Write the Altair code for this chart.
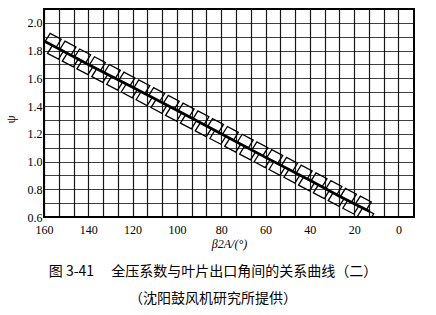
import altair as alt
import pandas as pd

# thick curve psi vs beta2A
line_x = [160, 140, 120, 100, 80, 60, 40, 26, 13]
line_y = [1.87, 1.70, 1.535, 1.37, 1.20, 1.03, 0.865, 0.745, 0.64]

# centres of the hatched band cells along the curve
cell_x = [157, 150.3, 143.7, 137, 130.3, 123.7, 117, 110.3, 103.7, 97, 90.3,
          83.7, 77, 70.3, 63.7, 57, 50.3, 43.7, 37, 30.3, 23.7, 17]
cell_y = [1.845, 1.789, 1.733, 1.677, 1.621, 1.566, 1.510, 1.454, 1.398, 1.342,
          1.286, 1.231, 1.174, 1.118, 1.063, 1.007, 0.951, 0.895, 0.839, 0.783,
          0.728, 0.672]

# graph-paper grid and labels
x_grid = [160, 153.33, 146.67, 140, 133.33, 126.67, 120, 113.33, 106.67, 100,
          93.33, 86.67, 80, 73.33, 66.67, 60, 53.33, 46.67, 40, 33.33, 26.67,
          20, 13.33, 6.67, 0]
y_grid = [0.6, 0.7, 0.8, 0.9, 1.0, 1.1, 1.2, 1.3, 1.4, 1.5, 1.6, 1.7, 1.8,
          1.9, 2.0, 2.1]
x_domain = [-7, 160]
y_domain = [0.6, 2.1]

caption = ["图 3-41　 全压系数与叶片出口角间的关系曲线（二）", "（沈阳鼓风机研究所提供）"]

line_df = pd.DataFrame({"b": line_x, "psi": line_y})
cell_df = pd.DataFrame({"b": cell_x, "psi": cell_y})

xs = alt.Scale(domain=x_domain, reverse=True, nice=False, zero=False)
ys = alt.Scale(domain=y_domain, nice=False, zero=False)

serif = "Liberation Serif"

x_axis = alt.Axis(
    values=x_grid, grid=True, gridColor="black", gridWidth=1.2, gridOpacity=0.9,
    domain=False, ticks=False, labelPadding=7, labelFont=serif, labelFontSize=12,
    labelColor="black", labelFlush=False, labelOverlap=False,
    labelExpr="abs(datum.value % 20) < 0.01 ? format(datum.value, 'd') : ''",
    title="β2A/(°)", titleFont=serif, titleFontSize=12, titleFontWeight="normal",
    titleFontStyle="italic", titleColor="black", titlePadding=3,
)
y_axis = alt.Axis(
    values=y_grid, grid=True, gridColor="black", gridWidth=1, gridOpacity=0.75,
    domain=False, ticks=False, labelPadding=2, labelFont=serif, labelFontSize=12,
    labelColor="black", labelOverlap=False, labelFlush=False,
    labelExpr="(round(datum.value * 10) % 2 == 0 && datum.value < 2.05) ? format(datum.value, '.1f') : ''",
    title="ψ", titleFont=serif, titleFontSize=13, titleFontWeight="normal",
    titleColor="black", titleX=-27, titleY=110,
)

X = alt.X("b:Q", scale=xs, axis=x_axis)
Y = alt.Y("psi:Q", scale=ys, axis=y_axis)

base_line = alt.Chart(line_df).mark_line(
    color="black", strokeWidth=2.8, clip=True
).encode(x=X, y=Y)

cell_shape = "M -1 0.1375 L 0.375 0.8625 L 1 -0.1375 L -0.375 -0.8625 Z"

upper = alt.Chart(cell_df).mark_point(
    shape=cell_shape, size=256, filled=False, color="black", strokeWidth=1.3,
    opacity=1, xOffset=2.5, yOffset=-4, clip=True,
).encode(x=X, y=Y)
lower = alt.Chart(cell_df).mark_point(
    shape=cell_shape, size=256, filled=False, color="black", strokeWidth=1.3,
    opacity=1, xOffset=4.85, yOffset=7.86, clip=True,
).encode(x=X, y=Y)

chart = alt.layer(base_line, upper, lower).properties(
    width=370, height=208,
    background="white",
    autosize=alt.AutoSizeParams(type="none"),
    padding={"left": 44, "top": 9, "right": 22, "bottom": 98},
    title=alt.TitleParams(
        text=caption, orient="bottom", anchor="middle", dx=-16, offset=16,
        font="Noto Sans CJK SC", fontSize=14, fontWeight="normal", color="black",
        lineHeight=27,
    ),
).configure_view(stroke="black", strokeWidth=2)

chart.save("out.html", embed_options={"renderer": "svg", "actions": False})
